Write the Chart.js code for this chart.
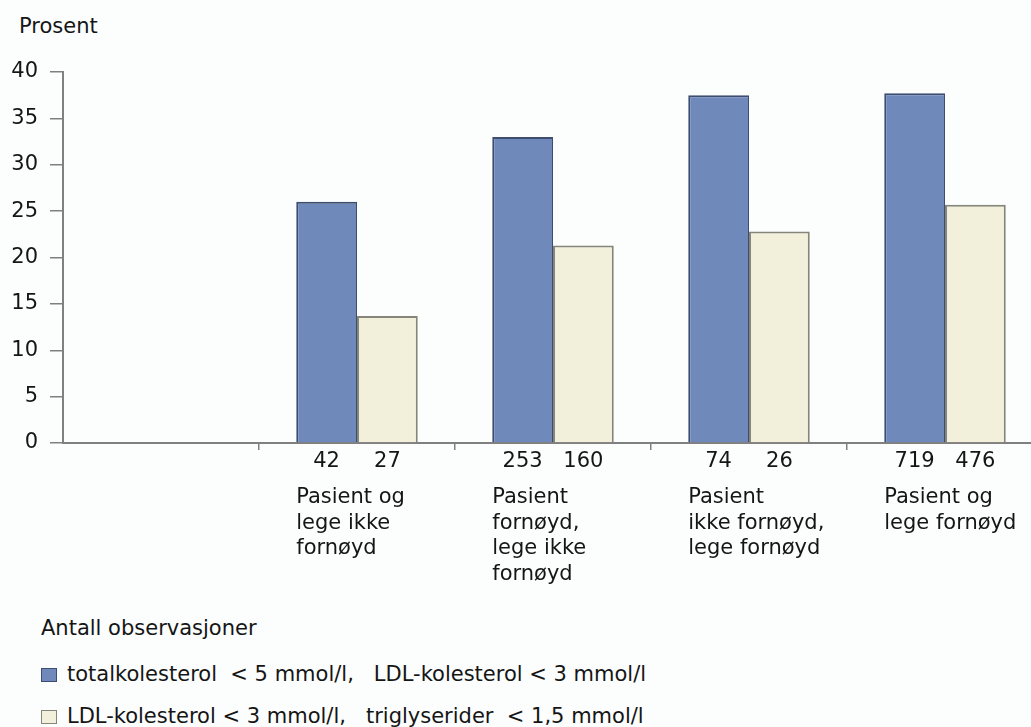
<!DOCTYPE html>
<html>
<head>
<meta charset="utf-8">
<script src="https://cdn.jsdelivr.net/npm/chart.js@4.4.1/dist/chart.umd.min.js"></script>
<style>
  html, body { margin:0; padding:0; background:#fcfefe; overflow:hidden; width:1031px; height:727px; }
  body { position:relative; font-family:"DejaVu Sans", sans-serif; color:#151515; }
  #wrap { position:absolute; left:0; top:0; width:1046px; height:600px; }
  #ytitle { position:absolute; left:19px; top:13px; font-size:21px; line-height:26px; }
  .lg { position:absolute; left:41px; font-size:21px; white-space:pre; line-height:24px; }
  .box { display:inline-block; width:16px; height:14px; vertical-align:-1px; margin-right:10px; box-sizing:border-box; }
</style>
</head>
<body>
<div id="ytitle">Prosent</div>
<div id="wrap"><canvas id="c"></canvas></div>
<div class="lg" style="top:616px">Antall observasjoner</div>
<div class="lg" style="top:662px" id="lg1"></div>
<div class="lg" style="top:704px" id="lg2"></div>
<script>
// ---- data ----
const categories = ['', 'Pasient og lege ikke fornøyd', 'Pasient fornøyd, lege ikke fornøyd', 'Pasient ikke fornøyd, lege fornøyd', 'Pasient og lege fornøyd'];
const categoryLines = [[], ['Pasient og', 'lege ikke', 'fornøyd'], ['Pasient', 'fornøyd,', 'lege ikke', 'fornøyd'], ['Pasient', 'ikke fornøyd,', 'lege fornøyd'], ['Pasient og', 'lege fornøyd']];
const totalCholValues = [null, 26.0, 33.0, 37.5, 37.7];
const ldlTrigValues = [null, 13.7, 21.3, 22.8, 25.7];
const totalCholCounts = [null, 42, 253, 74, 719];
const ldlTrigCounts = [null, 27, 160, 26, 476];
const yTicks = [0, 5, 10, 15, 20, 25, 30, 35, 40];
const seriesNames = ['totalkolesterol  < 5 mmol/l,   LDL-kolesterol < 3 mmol/l', 'LDL-kolesterol < 3 mmol/l,   triglyserider  < 1,5 mmol/l'];

const BLUE = '#6f89bb', BLUE_EDGE = '#3d4d70';
const BEIGE = '#f2f0da', BEIGE_EDGE = '#85857a';
const TEXT = '#151515', AXIS = '#808080';
const FONT = '"DejaVu Sans", sans-serif';

document.getElementById('lg1').innerHTML = '<span class="box" style="background:' + BLUE + ';border:1px solid ' + BLUE_EDGE + '"></span>';
document.getElementById('lg1').appendChild(document.createTextNode(seriesNames[0]));
document.getElementById('lg2').innerHTML = '<span class="box" style="background:' + BEIGE + ';border:1px solid ' + BEIGE_EDGE + '"></span>';
document.getElementById('lg2').appendChild(document.createTextNode(seriesNames[1]));

const labelPlugin = {
  id: 'barLabels',
  afterDatasetsDraw(chart) {
    const ctx = chart.ctx;
    const m0 = chart.getDatasetMeta(0), m1 = chart.getDatasetMeta(1);
    const bottom = chart.chartArea.bottom;
    ctx.save();
    ctx.fillStyle = TEXT;
    ctx.font = '21px ' + FONT;
    ctx.textBaseline = 'middle';
    for (let i = 0; i < categories.length; i++) {
      if (totalCholCounts[i] == null) continue;
      const b0 = m0.data[i], b1 = m1.data[i];
      ctx.textAlign = 'center';
      ctx.fillText(String(totalCholCounts[i]), b0.x, bottom + 19);
      ctx.fillText(String(ldlTrigCounts[i]), b1.x, bottom + 19);
      ctx.textAlign = 'left';
      const left = b0.x - b0.width / 2;
      categoryLines[i].forEach((ln, k) => ctx.fillText(ln, left, bottom + 55 + k * 25.5));
    }
    ctx.restore();
  }
};

new Chart(document.getElementById('c'), {
  type: 'bar',
  data: {
    labels: categories,
    datasets: [
      { label: seriesNames[0], data: totalCholValues, backgroundColor: BLUE, borderColor: BLUE_EDGE,
        borderWidth: { top: 2, left: 2, right: 1, bottom: 0 }, borderSkipped: 'bottom' },
      { label: seriesNames[1], data: ldlTrigValues, backgroundColor: BEIGE, borderColor: BEIGE_EDGE,
        borderWidth: 2, borderSkipped: 'bottom' }
    ]
  },
  options: {
    responsive: true,
    maintainAspectRatio: false,
    animation: false,
    categoryPercentage: 0.62,
    barPercentage: 1.0,
    layout: { padding: { left: 0, right: 3, top: 72, bottom: 150 } },
    plugins: { legend: { display: false }, tooltip: { enabled: false }, title: { display: false } },
    scales: {
      x: {
        offset: true,
        grid: { offset: true, drawOnChartArea: false, drawTicks: true, tickLength: 7,
                color: (c) => c.index === 0 ? 'rgba(0,0,0,0)' : AXIS, lineWidth: 1.5 },
        border: { color: AXIS, width: 2 },
        ticks: { display: false }
      },
      y: {
        min: 0, max: 40,
        afterFit(scale) { scale.width = 63; },
        afterBuildTicks(scale) { scale.ticks = yTicks.map(v => ({ value: v })); },
        grid: { drawOnChartArea: false, drawTicks: true, tickLength: 13, color: AXIS, lineWidth: 1.5 },
        border: { color: AXIS, width: 2 },
        ticks: { color: TEXT, font: { family: FONT, size: 21 }, padding: 12 }
      }
    }
  },
  plugins: [labelPlugin]
});
</script>
</body>
</html>
